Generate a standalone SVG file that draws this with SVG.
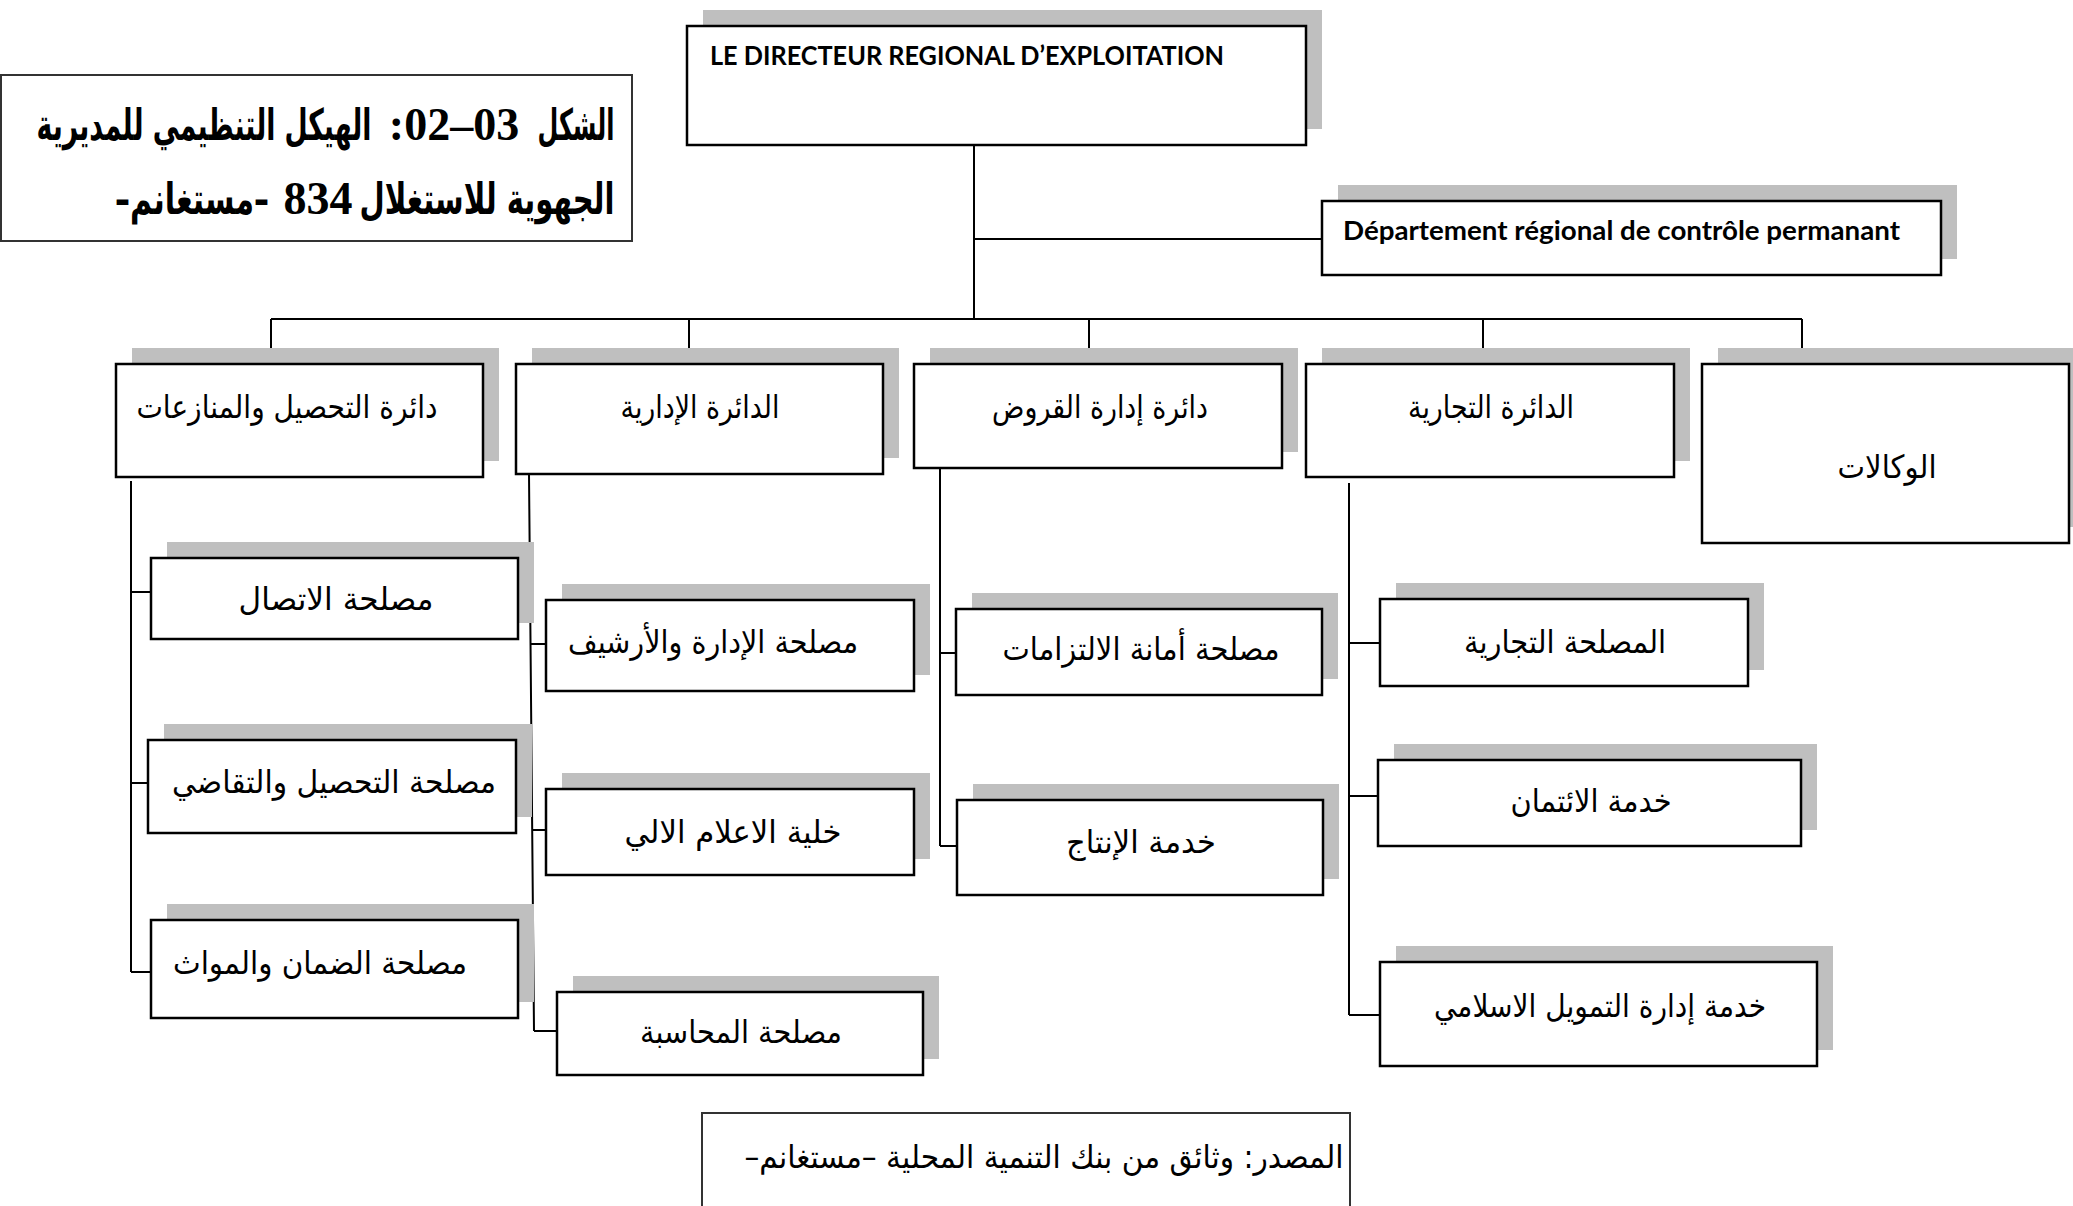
<svg xmlns="http://www.w3.org/2000/svg" width="2073" height="1206" viewBox="0 0 2073 1206">
<style>
.bg{fill:#fff}
.sh{fill:#bfbfbf}
.box{fill:#fff;stroke:#000;stroke-width:2.5}
.thin{fill:#fff;stroke:#333;stroke-width:2}
.ln{fill:none;stroke:#000;stroke-width:2}
.ar{font-family:"DejaVu Sans",sans-serif;font-size:32px;fill:#000;text-anchor:middle;direction:rtl}
.ttl{font-family:"DejaVu Sans",sans-serif;font-size:30px;font-weight:bold;fill:#000;text-anchor:middle;direction:rtl}
.num{font-family:"Liberation Serif",serif;font-size:46px;font-weight:bold;fill:#000;text-anchor:middle;direction:rtl}
.lat{font-family:Lato,"Liberation Sans",sans-serif;font-size:26px;font-weight:bold;fill:#000}
</style>
<rect class="bg" x="0" y="0" width="2073" height="1206"/>

<g id="title">
<rect class="thin" x="1" y="75" width="631" height="166"/>
<g transform="matrix(1 0 0 1.45 0 -63)">
<text class="ttl" x="576" y="140" textLength="77" lengthAdjust="spacingAndGlyphs">الشكل</text>
</g>
<g transform="matrix(1 0 0 1.55 0 -77)">
<text class="ttl" x="204" y="140" style="font-size:28px" textLength="335" lengthAdjust="spacingAndGlyphs">الهيكل التنظيمي للمديرية</text>
</g>
<text class="num" x="454" y="140">03–02:</text>
<g transform="matrix(1 0 0 1.45 0 -96.3)">
<text class="ttl" x="487" y="214" textLength="255" lengthAdjust="spacingAndGlyphs">الجهوية للاستغلال</text>
<text class="ttl" x="192" y="214" textLength="154" lengthAdjust="spacingAndGlyphs">–مستغانم–</text>
</g>
<text class="num" x="318" y="214">834</text>
</g>

<g id="connectors">
<path class="ln" d="M974 145V319M974 239H1322M271 319H1802M271 319V364M689 319V364M1089 319V364M1483 319V364M1802 319V364"/>
<path class="ln" d="M131 481V972M131 592H151M131 783H148M131 972H151"/>
<path class="ln" d="M529 474L534 1031M530.5 644H546M532 830H546M534 1031H557"/>
<path class="ln" d="M940 468V846M940 653H956M940 846H957"/>
<path class="ln" d="M1349 483V1015M1349 643H1380M1349 796H1378M1349 1015H1380"/>
</g>

<g id="director">
<rect class="sh" x="703" y="10" width="619" height="119"/>
<rect class="box" x="687" y="26" width="619" height="119"/>
<text class="lat" x="710" y="65" textLength="514" lengthAdjust="spacingAndGlyphs">LE DIRECTEUR REGIONAL D’EXPLOITATION</text>
</g>

<g id="controle">
<rect class="sh" x="1338" y="185" width="619" height="74"/>
<rect class="box" x="1322" y="201" width="619" height="74"/>
<text class="lat" x="1343" y="240" textLength="557" lengthAdjust="spacingAndGlyphs">Département régional de contrôle permanant</text>
</g>

<g id="recouvrement">
<rect class="sh" x="132" y="348" width="367" height="113"/>
<rect class="box" x="116" y="364" width="367" height="113"/>
<text class="ar" x="287" y="418" textLength="301" lengthAdjust="spacingAndGlyphs">دائرة التحصيل والمنازعات</text>
</g>

<g id="administrative">
<rect class="sh" x="532" y="348" width="367" height="110"/>
<rect class="box" x="516" y="364" width="367" height="110"/>
<text class="ar" x="700" y="418" textLength="159" lengthAdjust="spacingAndGlyphs">الدائرة الإدارية</text>
</g>

<g id="credits">
<rect class="sh" x="930" y="348" width="368" height="104"/>
<rect class="box" x="914" y="364" width="368" height="104"/>
<text class="ar" x="1100" y="418" textLength="216" lengthAdjust="spacingAndGlyphs">دائرة إدارة القروض</text>
</g>

<g id="commerciale">
<rect class="sh" x="1322" y="348" width="368" height="113"/>
<rect class="box" x="1306" y="364" width="368" height="113"/>
<text class="ar" x="1491" y="418" textLength="166" lengthAdjust="spacingAndGlyphs">الدائرة التجارية</text>
</g>

<g id="agences">
<rect class="sh" x="1718" y="348" width="367" height="179"/>
<rect class="box" x="1702" y="364" width="367" height="179"/>
<text class="ar" x="1887" y="478" textLength="99" lengthAdjust="spacingAndGlyphs">الوكالات</text>
</g>

<g id="communication">
<rect class="sh" x="167" y="542" width="367" height="81"/>
<rect class="box" x="151" y="558" width="367" height="81"/>
<text class="ar" x="336" y="610" textLength="195" lengthAdjust="spacingAndGlyphs">مصلحة الاتصال</text>
</g>

<g id="contentieux">
<rect class="sh" x="164" y="724" width="368" height="93"/>
<rect class="box" x="148" y="740" width="368" height="93"/>
<text class="ar" x="334" y="793" textLength="324" lengthAdjust="spacingAndGlyphs">مصلحة التحصيل والتقاضي</text>
</g>

<g id="garantie">
<rect class="sh" x="167" y="904" width="367" height="98"/>
<rect class="box" x="151" y="920" width="367" height="98"/>
<text class="ar" x="320" y="974" textLength="294" lengthAdjust="spacingAndGlyphs">مصلحة الضمان والمواث</text>
</g>

<g id="archives">
<rect class="sh" x="562" y="584" width="368" height="91"/>
<rect class="box" x="546" y="600" width="368" height="91"/>
<text class="ar" x="713" y="653" textLength="290" lengthAdjust="spacingAndGlyphs">مصلحة الإدارة والأرشيف</text>
</g>

<g id="informatique">
<rect class="sh" x="562" y="773" width="368" height="86"/>
<rect class="box" x="546" y="789" width="368" height="86"/>
<text class="ar" x="733" y="843" textLength="217" lengthAdjust="spacingAndGlyphs">خلية الاعلام الالي</text>
</g>

<g id="comptabilite">
<rect class="sh" x="573" y="976" width="366" height="83"/>
<rect class="box" x="557" y="992" width="366" height="83"/>
<text class="ar" x="741" y="1043" textLength="202" lengthAdjust="spacingAndGlyphs">مصلحة المحاسبة</text>
</g>

<g id="engagements">
<rect class="sh" x="972" y="593" width="366" height="86"/>
<rect class="box" x="956" y="609" width="366" height="86"/>
<text class="ar" x="1141" y="660" textLength="277" lengthAdjust="spacingAndGlyphs">مصلحة أمانة الالتزامات</text>
</g>

<g id="production">
<rect class="sh" x="973" y="784" width="366" height="95"/>
<rect class="box" x="957" y="800" width="366" height="95"/>
<text class="ar" x="1141" y="853" textLength="150" lengthAdjust="spacingAndGlyphs">خدمة الإنتاج</text>
</g>

<g id="service-commercial">
<rect class="sh" x="1396" y="583" width="368" height="87"/>
<rect class="box" x="1380" y="599" width="368" height="87"/>
<text class="ar" x="1565" y="653" textLength="202" lengthAdjust="spacingAndGlyphs">المصلحة التجارية</text>
</g>

<g id="credit">
<rect class="sh" x="1394" y="744" width="423" height="86"/>
<rect class="box" x="1378" y="760" width="423" height="86"/>
<text class="ar" x="1591" y="812" textLength="161" lengthAdjust="spacingAndGlyphs">خدمة الائتمان</text>
</g>

<g id="islamique">
<rect class="sh" x="1396" y="946" width="437" height="104"/>
<rect class="box" x="1380" y="962" width="437" height="104"/>
<text class="ar" x="1600" y="1017" textLength="332" lengthAdjust="spacingAndGlyphs">خدمة إدارة التمويل الاسلامي</text>
</g>

<g id="source">
<rect class="thin" x="702" y="1113" width="648" height="110"/>
<text class="ar" x="1044" y="1168" textLength="599" lengthAdjust="spacingAndGlyphs">المصدر: وثائق من بنك التنمية المحلية –مستغانم–</text>
</g>
</svg>
